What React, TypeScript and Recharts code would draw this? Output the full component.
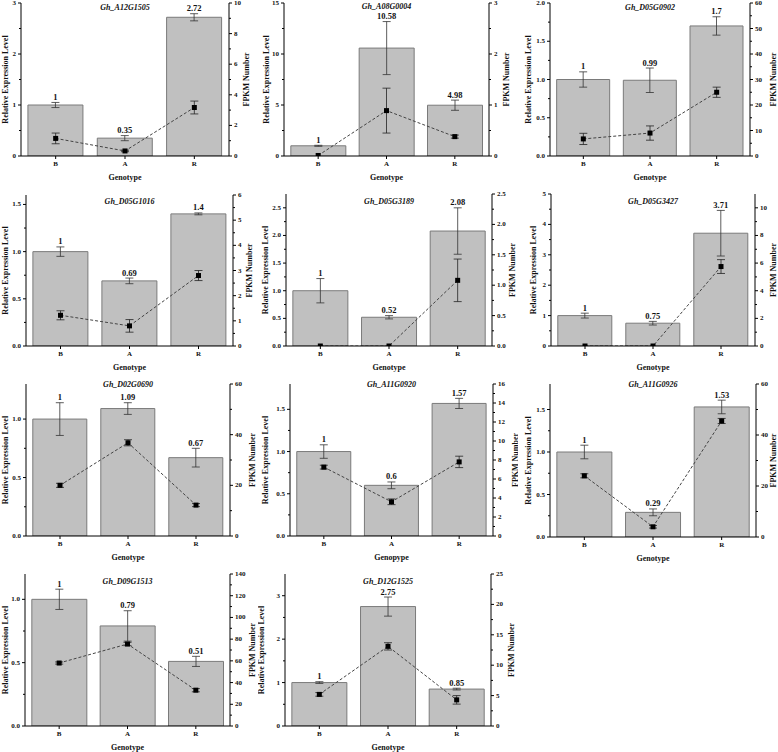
import { ComposedChart, Bar, Line, XAxis, YAxis, ErrorBar, LabelList, Label } from "recharts"

// categories
const genotypes = ["B", "A", "R"]

// one entry per panel
const genes = [
  "Gh_A12G1505", "Gh_A08G0004", "Gh_D05G0902",
  "Gh_D05G1016", "Gh_D05G3189", "Gh_D05G3427",
  "Gh_D02G0690", "Gh_A11G0920", "Gh_A11G0926",
  "Gh_D09G1513", "Gh_D12G1525",
]
const xTitles = [
  "Genotype", "Genotype", "Genotype",
  "Genotype", "Genotype", "Genotype",
  "Genotype", "Genopype", "Genotype",
  "Genotype", "Genotype",
]

// relative expression (bars, left axis)
const relExpr = [
  [1, 0.35, 2.72], [1, 10.58, 4.98], [1, 0.99, 1.7],
  [1, 0.69, 1.4], [1, 0.52, 2.08], [1, 0.75, 3.71],
  [1, 1.09, 0.67], [1, 0.6, 1.57], [1, 0.29, 1.53],
  [1, 0.79, 0.51], [1, 2.75, 0.85],
]
const relErr = [
  [0.05, 0.05, 0.07], [0.05, 2.6, 0.5], [0.1, 0.16, 0.12],
  [0.05, 0.03, 0.01], [0.22, 0.03, 0.42], [0.08, 0.06, 0.75],
  [0.14, 0.05, 0.08], [0.08, 0.04, 0.06], [0.08, 0.04, 0.08],
  [0.08, 0.12, 0.04], [0.02, 0.22, 0.02],
]

// FPKM (dashed line, right axis)
const fpkm = [
  [1.15, 0.33, 3.17], [0.01, 0.89, 0.38], [6.7, 9, 25],
  [1.22, 0.8, 2.8], [0, 0, 1.08], [0, 0, 5.75],
  [20, 36.8, 12.2], [7.25, 3.6, 7.8], [24, 4, 45.5],
  [58, 75.5, 33], [5.2, 13.1, 4.3],
]
const fpkmErr = [
  [0.35, 0.05, 0.42], [0, 0.44, 0.03], [2.2, 2.8, 2],
  [0.18, 0.25, 0.2], [0, 0, 0.35], [0, 0, 0.5],
  [0.8, 1.2, 0.6], [0.2, 0.3, 0.6], [0.8, 0.5, 1],
  [1, 1.5, 1.5], [0.3, 0.6, 0.7],
]

// axis ranges and tick labels
const leftMax = [3, 15, 2, 1.6, 2.75, 5, 1.3, 1.8, 1.8, 1.2, 3.5]
const leftTicks = [
  [0, 1, 2, 3], [0, 5, 10, 15], [0, 0.5, 1, 1.5, 2],
  [0, 0.5, 1, 1.5], [0, 0.5, 1, 1.5, 2, 2.5], [0, 1, 2, 3, 4, 5],
  [0, 0.5, 1], [0, 0.5, 1, 1.5], [0, 0.5, 1, 1.5],
  [0, 0.5, 1], [0, 1, 2, 3],
]
const leftDigits = [0, 0, 1, 1, 1, 0, 1, 1, 1, 1, 0]
const rightMax = [10, 3, 60, 6, 2.5, 11, 60, 16, 60, 140, 25]
const rightTicks = [
  [0, 2, 4, 6, 8, 10], [0, 1, 2, 3], [0, 10, 20, 30, 40, 50, 60],
  [0, 1, 2, 3, 4, 5, 6], [0, 0.5, 1, 1.5, 2, 2.5], [0, 2, 4, 6, 8, 10],
  [0, 20, 40, 60], [0, 2, 4, 6, 8, 10, 12, 14, 16], [0, 20, 40, 60],
  [0, 20, 40, 60, 80, 100, 120, 140], [0, 5, 10, 15, 20, 25],
]
const rightDigits = [0, 0, 0, 0, 1, 0, 0, 0, 0, 0, 0]

// page layout of each panel: origin, plot box, title positions
const W = 260
const H = 188
const layout = [
  { ox: 0, oy: 0, l: 21, r: 229, t: 3, b: 156, lt: 5, rt: 246, ty: 8 },
  { ox: 258, oy: 0, l: 284, r: 489, t: 3, b: 156, lt: 266, rt: 506, ty: 7 },
  { ox: 518, oy: 0, l: 550, r: 750, t: 3, b: 156, lt: 528, rt: 773, ty: 8 },
  { ox: 0, oy: 185, l: 26, r: 233, t: 195, b: 346, lt: 5, rt: 249, ty: 202 },
  { ox: 258, oy: 185, l: 286, r: 492, t: 194, b: 346, lt: 265, rt: 512, ty: 202 },
  { ox: 518, oy: 185, l: 551, r: 755, t: 194, b: 346, lt: 533, rt: 773, ty: 202 },
  { ox: 0, oy: 375, l: 26, r: 230, t: 384, b: 536, lt: 5, rt: 252, ty: 385 },
  { ox: 258, oy: 375, l: 290, r: 493, t: 384, b: 536, lt: 265, rt: 515, ty: 385 },
  { ox: 518, oy: 375, l: 550, r: 756, t: 384, b: 537, lt: 528, rt: 773, ty: 385 },
  { ox: 0, oy: 565, l: 25, r: 230, t: 574, b: 726, lt: 5, rt: 252, ty: 582 },
  { ox: 258, oy: 565, l: 285, r: 491, t: 574, b: 726, lt: 261, rt: 511, ty: 582 },
]

const FONT = "'Liberation Serif', 'Times New Roman', serif"
const TICK = 3
const GAP = 2

// majors plus a minor tick halfway between each pair
const withMinor = (majors: number[]) => {
  const out: number[] = []
  majors.forEach((v, k) => {
    out.push(v)
    if (k < majors.length - 1) out.push((v + majors[k + 1]) / 2)
  })
  return out
}

const yTick = (majors: number[], digits: number, side: "left" | "right") => (props: any) => {
  const { x, y, payload } = props
  const v = payload.value
  const major = majors.some((m) => Math.abs(m - v) < 1e-9)
  const ax = side === "left" ? x + TICK + GAP : x - TICK - GAP
  const len = major ? TICK : 2
  const x2 = side === "left" ? ax - len : ax + len
  return (
    <g>
      <line x1={ax} x2={x2} y1={y} y2={y} stroke="#000" strokeWidth={1} />
      {major && (
        <text x={x} y={y} textAnchor={side === "left" ? "end" : "start"} dominantBaseline="central"
          fontSize={7} fontWeight={700} fontFamily={FONT} fill="#111">{v.toFixed(digits)}</text>
      )}
    </g>
  )
}

const xTickStyle = { fontSize: 7, fontWeight: 700, fill: "#111", fontFamily: FONT }

const vTitle = (text: string, dx: number) => (props: any) => {
  const vb = props.viewBox
  const x = vb.x + dx
  const y = vb.y + vb.height / 2
  return (
    <text x={x} y={y} transform={`rotate(-90, ${x}, ${y})`} textAnchor="middle" dominantBaseline="central"
      fontSize={8} fontWeight={700} fontFamily={FONT} fill="#111">{text}</text>
  )
}

const hTitle = (text: string) => (props: any) => {
  const vb = props.viewBox
  return (
    <text x={vb.x + vb.width / 2} y={vb.y + 21} textAnchor="middle" dominantBaseline="central"
      fontSize={8} fontWeight={700} fontFamily={FONT} fill="#111">{text}</text>
  )
}

// value above the error bar top
const valueLabel = (errs: number[]) => (props: any) => {
  const { x, y, width, height, value, index } = props
  const errPx = value > 0 ? (errs[index] * height) / value : 0
  return (
    <text x={x + width / 2} y={y - errPx - 2.5} textAnchor="middle" fontSize={8.5} fontWeight={700}
      fontFamily={FONT} fill="#111">{String(value)}</text>
  )
}

const square = (props: any) => (
  <rect key={`sq-${props.index}`} x={props.cx - 2.5} y={props.cy - 2.5} width={5} height={5} fill="#000" />
)

function Panel({ i }: { i: number }) {
  const p = layout[i]
  const data = genotypes.map((g, j) => ({
    g,
    rel: relExpr[i][j],
    relErr: relErr[i][j],
    fpkm: fpkm[i][j],
    fpkmErr: fpkmErr[i][j],
  }))
  return (
    <div style={{ position: "absolute", left: p.ox, top: p.oy, width: W, height: H }}>
      <ComposedChart width={W} height={H} data={data} barCategoryGap="10%"
        margin={{ top: p.t - p.oy, right: 0, bottom: 0, left: 0 }}>
        <XAxis dataKey="g" height={p.oy + H - p.b} tick={xTickStyle} tickSize={TICK}
          axisLine={{ stroke: "#000" }} tickLine={{ stroke: "#000" }}>
          <Label content={hTitle(xTitles[i])} />
        </XAxis>
        <YAxis yAxisId="left" width={p.l - p.ox} domain={[0, leftMax[i]]} ticks={withMinor(leftTicks[i])}
          allowDataOverflow tick={yTick(leftTicks[i], leftDigits[i], "left")} tickSize={TICK} tickMargin={GAP}
          interval={0} axisLine={{ stroke: "#000" }} tickLine={false}>
          <Label content={vTitle("Relative Expression Level", p.lt - p.ox)} />
        </YAxis>
        <YAxis yAxisId="right" orientation="right" width={p.ox + W - p.r} domain={[0, rightMax[i]]}
          ticks={withMinor(rightTicks[i])} allowDataOverflow tick={yTick(rightTicks[i], rightDigits[i], "right")}
          tickSize={TICK} tickMargin={GAP} interval={0} axisLine={{ stroke: "#000" }} tickLine={false}>
          <Label content={vTitle("FPKM Number", p.rt - p.r)} />
        </YAxis>
        <Bar yAxisId="left" dataKey="rel" fill="#c0c0c0" stroke="#7a7a7a" strokeWidth={1}
          isAnimationActive={false}>
          <ErrorBar dataKey="relErr" width={4} stroke="#333" strokeWidth={0.8} />
          <LabelList dataKey="rel" content={valueLabel(relErr[i])} />
        </Bar>
        <Line yAxisId="right" dataKey="fpkm" stroke="#444" strokeWidth={1} strokeDasharray="3 2"
          dot={square} activeDot={false} isAnimationActive={false}>
          <ErrorBar dataKey="fpkmErr" width={4} stroke="#222" strokeWidth={0.8} />
        </Line>
      </ComposedChart>
      <div style={{
        position: "absolute", left: p.l - p.ox, width: p.r - p.l, top: p.ty - p.oy - 5,
        textAlign: "center", fontFamily: FONT, fontSize: 8, fontWeight: 700, fontStyle: "italic",
        lineHeight: "10px", color: "#111",
      }}>{genes[i]}</div>
    </div>
  )
}

export default function App() {
  return (
    <div style={{ position: "absolute", left: 0, top: 0, width: 778, height: 752, background: "#fff" }}>
      {genes.map((_, i) => <Panel key={i} i={i} />)}
    </div>
  )
}
